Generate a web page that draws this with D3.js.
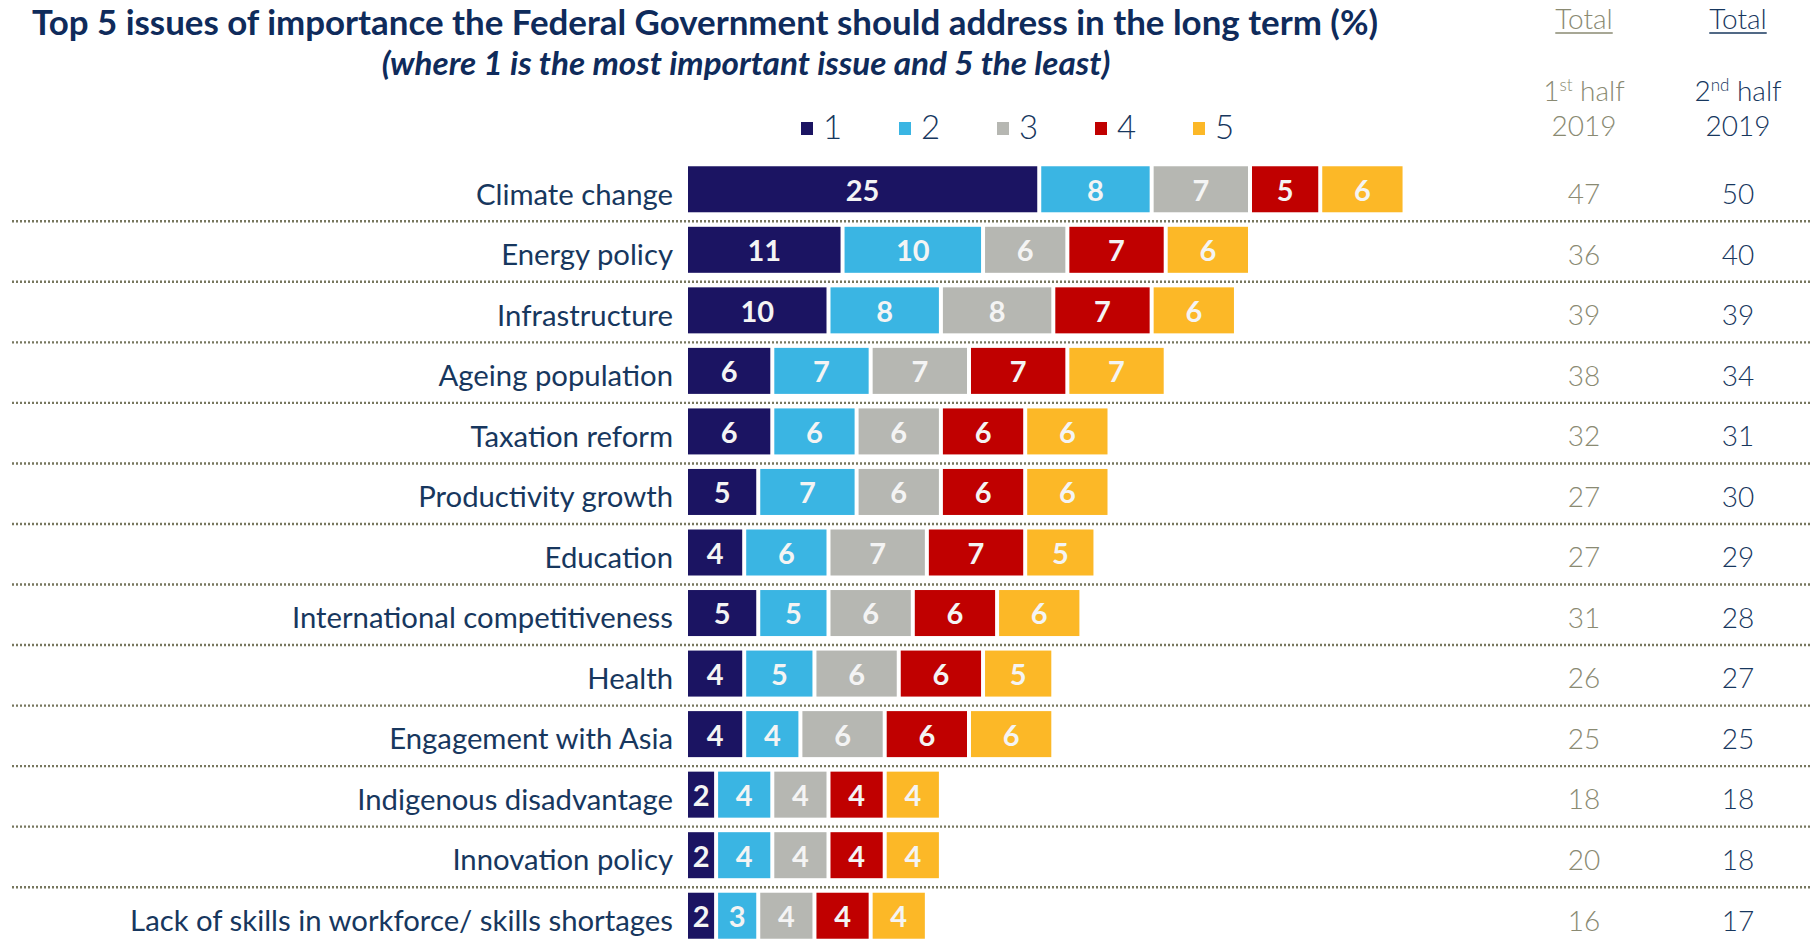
<!DOCTYPE html>
<html>
<head>
<meta charset="utf-8">
<script src="https://cdn.jsdelivr.net/npm/d3@7"></script>
<style>
  html, body { margin: 0; padding: 0; background: #fff; }
  svg { display: block; }
</style>
</head>
<body>
<svg id="chart" width="1811" height="943"></svg>
<script>
// issues, top to bottom
var issues = [
	'Climate change',
	'Energy policy',
	'Infrastructure',
	'Ageing population',
	'Taxation reform',
	'Productivity growth',
	'Education',
	'International competitiveness',
	'Health',
	'Engagement with Asia',
	'Indigenous disadvantage',
	'Innovation policy',
	'Lack of skills in workforce/ skills shortages'
];
// % ranking the issue 1st .. 5th
var rank1 = [25, 11, 10, 6, 6, 5, 4, 5, 4, 4, 2, 2, 2];
var rank2 = [8, 10, 8, 7, 6, 7, 6, 5, 5, 4, 4, 4, 3];
var rank3 = [7, 6, 8, 7, 6, 6, 7, 6, 6, 6, 4, 4, 4];
var rank4 = [5, 7, 7, 7, 6, 6, 7, 6, 6, 6, 4, 4, 4];
var rank5 = [6, 6, 6, 7, 6, 6, 5, 6, 5, 6, 4, 4, 4];
// totals columns
var total1st = [47, 36, 39, 38, 32, 27, 27, 31, 26, 25, 18, 20, 16];
var total2nd = [50, 40, 39, 34, 31, 30, 29, 28, 27, 25, 18, 18, 17];
var rankKeys = ['1', '2', '3', '4', '5'];

var colors = ['#1b1462', '#3ab5e3', '#b6b7b2', '#c00000', '#fcb827'];
var navy = '#17375e';
var olive = '#8a8a72';
var font = "'Century Gothic', Lato, 'Open Sans', sans-serif";

var svg = d3.select('#chart');

// build rows for the stack
var rows = issues.map(function(name, i) {
	return { issue: name, '1': rank1[i], '2': rank2[i], '3': rank3[i], '4': rank4[i], '5': rank5[i] };
});
var series = d3.stack().keys(rankKeys)(rows);

var x = d3.scaleLinear().domain([0, 50]).range([688, 688 + 702.5]);
var y = d3.scaleBand().domain(issues).range([159, 946]).paddingInner(0.24).paddingOuter(0.12);
var color = d3.scaleOrdinal().domain(rankKeys).range(colors);
var gap = 4;

/**
 * Scale a text selection's font size so its widest node is `target` px wide.
 */
function fitWidth(sel, target) {
	var widest = 0;
	sel.each(function() { widest = Math.max(widest, this.getComputedTextLength()); });
	var size = parseFloat(sel.attr('font-size'));
	sel.attr('font-size', size * target / widest);
}

// dotted separators
svg.append('g').selectAll('line')
	.data(issues.slice(0, -1))
	.join('line')
	.attr('x1', 12)
	.attr('x2', 1811)
	.attr('y1', function(d) { return y(d) + y.bandwidth() + 9; })
	.attr('y2', function(d) { return y(d) + y.bandwidth() + 9; })
	.attr('stroke', '#77775f')
	.attr('stroke-width', 2.4)
	.attr('stroke-dasharray', '2,2');

// stacked segments
var layer = svg.append('g').selectAll('g')
	.data(series)
	.join('g')
	.attr('fill', function(s) { return color(s.key); });

layer.selectAll('rect')
	.data(function(s) { return s; })
	.join('rect')
	.attr('x', function(d) { return x(d[0]) + (d[0] > 0 ? gap / 2 : 0); })
	.attr('y', function(d) { return y(d.data.issue); })
	.attr('width', function(d) { return x(d[1]) - x(d[0]) - (d[0] > 0 ? gap : gap / 2); })
	.attr('height', y.bandwidth());

layer.selectAll('text')
	.data(function(s) { return s; })
	.join('text')
	.attr('x', function(d) { return (x(d[0]) + x(d[1])) / 2 + (d[0] > 0 ? 0 : -gap / 4); })
	.attr('y', function(d) { return y(d.data.issue) + y.bandwidth() / 2 + 1; })
	.attr('dy', '0.36em')
	.attr('text-anchor', 'middle')
	.attr('fill', '#f4f4f4')
	.attr('font-family', font)
	.attr('font-weight', 700)
	.attr('font-size', 29)
	.text(function(d) { return d[1] - d[0]; });

// issue labels
var labels = svg.append('g').selectAll('text')
	.data(issues)
	.join('text')
	.attr('x', 673)
	.attr('y', function(d) { return y(d) + y.bandwidth() / 2 + 5; })
	.attr('dy', '0.35em')
	.attr('text-anchor', 'end')
	.attr('fill', navy)
	.attr('font-family', font)
	.attr('font-size', 27)
	.text(function(d) { return d; });
fitWidth(labels, 543);

// totals columns
var totals = [
	{ values: total1st, cx: 1584, fill: olive, sup: 'st', n: '1' },
	{ values: total2nd, cx: 1738, fill: navy, sup: 'nd', n: '2' }
];
totals.forEach(function(col) {
	svg.append('g').selectAll('text')
		.data(col.values)
		.join('text')
		.attr('x', col.cx)
		.attr('y', function(d, i) { return y(issues[i]) + y.bandwidth() / 2 + 5; })
		.attr('dy', '0.35em')
		.attr('text-anchor', 'middle')
		.attr('fill', col.fill)
		.attr('font-family', font)
		.attr('font-weight', 300)
		.attr('font-size', 28)
		.text(function(d) { return d; });

	var head = svg.append('g').attr('fill', col.fill)
		.attr('font-family', font).attr('font-weight', 300).attr('font-size', 28)
		.attr('text-anchor', 'middle');
	var tot = head.append('text').attr('x', col.cx).attr('y', 29).text('Total');
	var w = tot.node().getComputedTextLength();
	head.append('line')
		.attr('x1', col.cx - w / 2).attr('x2', col.cx + w / 2)
		.attr('y1', 33).attr('y2', 33)
		.attr('stroke', col.fill).attr('stroke-width', 1.5);
	var half = head.append('text').attr('x', col.cx).attr('y', 101);
	half.append('tspan').text(col.n);
	half.append('tspan').attr('font-size', 17).attr('dy', -10).text(col.sup);
	half.append('tspan').attr('dy', 10).text(' half');
	head.append('text').attr('x', col.cx).attr('y', 136).text('2019');
});

// legend
var legend = svg.append('g').selectAll('g')
	.data(rankKeys)
	.join('g')
	.attr('transform', function(d, i) { return 'translate(' + (801 + i * 98) + ',0)'; });
legend.append('rect')
	.attr('x', 0).attr('y', 122)
	.attr('width', 12).attr('height', 13)
	.attr('fill', function(d) { return color(d); });
legend.append('text')
	.attr('x', 22).attr('y', 139)
	.attr('fill', navy)
	.attr('font-family', font)
	.attr('font-weight', 300)
	.attr('font-size', 33)
	.text(function(d) { return d; });

// titles
var title = svg.append('text')
	.attr('x', 705).attr('y', 35)
	.attr('text-anchor', 'middle')
	.attr('fill', '#0f2b5b')
	.attr('font-family', font)
	.attr('font-weight', 700)
	.attr('font-size', 29)
	.text('Top 5 issues of importance the Federal Government should address in the long term (%)');
fitWidth(title, 1347);

var subtitle = svg.append('text')
	.attr('x', 746).attr('y', 75)
	.attr('text-anchor', 'middle')
	.attr('fill', '#0f2b5b')
	.attr('font-family', font)
	.attr('font-weight', 700)
	.attr('font-style', 'italic')
	.attr('font-size', 27)
	.text('(where 1 is the most important issue and 5 the least)');
fitWidth(subtitle, 729);
</script>
</body>
</html>
